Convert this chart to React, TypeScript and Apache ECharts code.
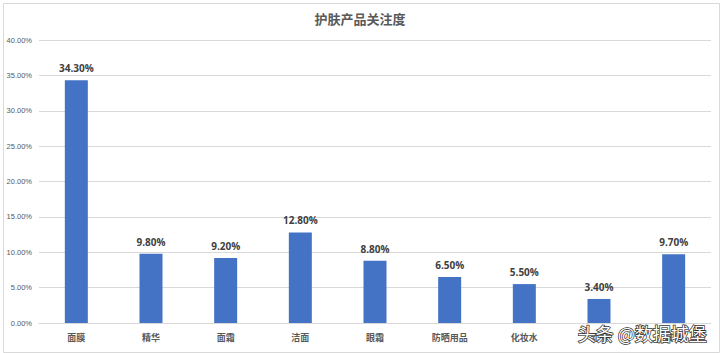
import React, { useEffect, useRef } from "react";
import * as echarts from "echarts";

const categories = ["面膜", "精华", "面霜", "洁面", "眼霜", "防晒用品", "化妆水", "乳液", "其他"];
const values = [34.3, 9.8, 9.2, 12.8, 8.8, 6.5, 5.5, 3.4, 9.7];
const titleText = "护肤产品关注度";
const watermark = "头条 @数据城堡";

export default function App() {
  const ref = useRef<HTMLDivElement>(null);
  useEffect(() => {
    if (!ref.current) return;
    const chart = echarts.init(ref.current, null, { renderer: "svg" });
    chart.setOption({
      animation: false,
      backgroundColor: "#ffffff",
      title: {
        text: titleText,
        left: "center",
        top: 7,
        textStyle: { fontSize: 13, fontWeight: "bold", color: "#595959", fontFamily: "Noto Sans CJK SC" },
      },
      grid: { left: 39, right: 9, top: 40, bottom: 30, containLabel: false },
      xAxis: {
        type: "category",
        data: categories,
        axisLine: { lineStyle: { color: "#d9d9d9" } },
        axisTick: { show: false },
        axisLabel: { color: "#595959", fontSize: 9, fontWeight: "bold", margin: 10, fontFamily: "Noto Sans CJK SC" },
      },
      yAxis: {
        type: "value",
        min: 0,
        max: 40,
        interval: 5,
        axisLine: { show: false },
        axisTick: { show: false },
        splitLine: { lineStyle: { color: "#d9d9d9" } },
        axisLabel: {
          color: "#595959",
          fontSize: 7.5,
          margin: 7,
          fontFamily: "Liberation Sans",
          formatter: (v: number) => v.toFixed(2) + "%",
        },
      },
      series: [
        {
          type: "bar",
          data: values,
          barWidth: 23,
          itemStyle: { color: "#4472C4" },
          label: {
            show: true,
            position: "top",
            distance: 7,
            color: "#404040",
            fontSize: 10,
            fontWeight: "bold",
            fontFamily: "Open Sans",
            formatter: (p: any) => Number(p.value).toFixed(2) + "%",
          },
        },
      ],
      graphic: [
        {
          type: "rect",
          left: 1,
          top: 1,
          shape: { width: 716, height: 349 },
          style: { fill: "none", stroke: "#d9d9d9", lineWidth: 1 },
          silent: true,
        },
        {
          type: "text",
          left: 577,
          top: 323,
          z: 100,
          style: {
            text: watermark,
            fontSize: 18,
            fill: "#ffffff",
            stroke: "#333333",
            lineWidth: 1.5,
            fontFamily: "Noto Sans CJK SC",
          },
        },
      ],
    });
    return () => chart.dispose();
  }, []);
  return <div ref={ref} style={{ width: 720, height: 353, position: "absolute", left: 0, top: 0 }} />;
}
